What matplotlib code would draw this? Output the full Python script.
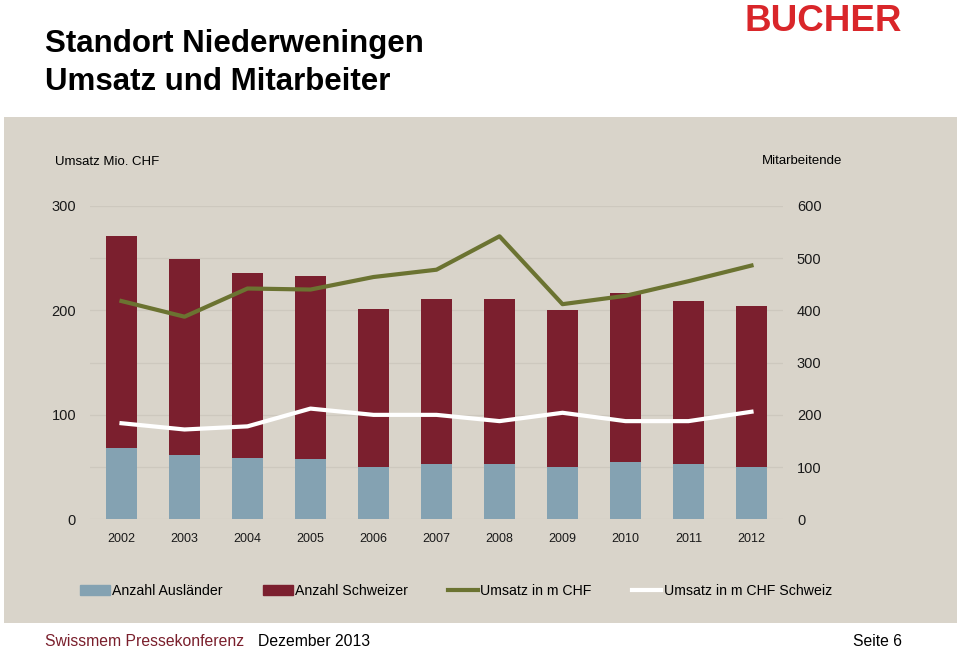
import matplotlib.pyplot as plt
from matplotlib.patches import Rectangle, Patch
from matplotlib.lines import Line2D

years = ['2002', '2003', '2004', '2005', '2006', '2007', '2008', '2009', '2010', '2011', '2012']
auslaender = [136, 124, 118, 115, 100, 105, 105, 100, 109, 105, 100]
total_ma = [543, 498, 471, 465, 403, 422, 422, 401, 433, 419, 408]
schweizer = [t - a for t, a in zip(total_ma, auslaender)]
umsatz = [209, 194, 221, 220, 232, 239, 271, 206, 214, 228, 243]
umsatz_ch = [92, 86, 89, 106, 100, 100, 94, 102, 94, 94, 103]

BG = '#d9d4ca'
C_AUS = '#84a2b2'
C_CH = '#7b1f2e'
C_UMS = '#6b7331'
GRID = '#cdc8be'

plt.rcParams['font.family'] = ['Liberation Sans', 'DejaVu Sans']

fig = plt.figure(figsize=(9.6, 6.51), dpi=100)
W, H = 960, 651

# grey panel behind the chart
fig.patches.append(Rectangle((4 / W, 1 - 623 / H), (957 - 4) / W, (623 - 117) / H,
                             transform=fig.transFigure, facecolor=BG, edgecolor='none', zorder=-5))

ax = fig.add_axes([90 / W, 1 - 519.3 / H, 693 / W, 313.3 / H])
ax.patch.set_alpha(0)
ax2 = ax.twinx()

x = range(len(years))
ax.bar(x, auslaender, width=0.5, color=C_AUS, zorder=2)
ax.bar(x, schweizer, width=0.5, bottom=auslaender, color=C_CH, zorder=2)
ax.set_ylim(0, 600)
ax.set_xlim(-0.5, len(years) - 0.5)
ax.set_yticks(range(0, 601, 100))
ax.grid(axis='y', color=GRID, linewidth=0.9, zorder=0)
ax.set_axisbelow(True)
ax.set_xticks(list(x))
ax.set_xticklabels(years, fontsize=9)
ax.tick_params(axis='both', length=0, colors='#1a1a1a')
ax.tick_params(axis='y', labelsize=10.5, pad=10, left=False, labelleft=False,
               right=False, labelright=True)
ax.tick_params(axis='x', pad=10)
for s in ax.spines.values():
    s.set_visible(False)

ax2.plot(x, umsatz, color=C_UMS, linewidth=3)
ax2.plot(x, umsatz_ch, color='white', linewidth=3)
ax2.set_ylim(0, 300)
ax2.set_yticks([0, 100, 200, 300])
ax2.tick_params(axis='y', length=0, labelsize=10.5, pad=10, colors='#1a1a1a',
                left=False, labelleft=True, right=False, labelright=False)
for s in ax2.spines.values():
    s.set_visible(False)

fig.text(55 / W, 1 - 162 / H, 'Umsatz Mio. CHF', fontsize=9.5, va='center', ha='left')
fig.text(842 / W, 1 - 161 / H, 'Mitarbeitende', fontsize=9.5, va='center', ha='right')

handles = [Patch(color=C_AUS), Patch(color=C_CH),
           Line2D([], [], color=C_UMS, linewidth=3), Line2D([], [], color='white', linewidth=3)]
labels = ['Anzahl Ausländer', 'Anzahl Schweizer', 'Umsatz in m CHF', 'Umsatz in m CHF Schweiz']
fig.legend(handles, labels, loc='center', bbox_to_anchor=(456 / W, 1 - 591 / H), ncol=4,
           frameon=False, fontsize=10.2, handlelength=2.1, handleheight=0.8,
           handletextpad=0.15, columnspacing=2.85)

fig.text(45 / W, 1 - 51.7 / H, 'Standort Niederweningen', fontsize=22.5, fontweight='bold',
         va='baseline', ha='left')
fig.text(45 / W, 1 - 90 / H, 'Umsatz und Mitarbeiter', fontsize=22.5, fontweight='bold',
         va='baseline', ha='left')
fig.text(902 / W, 1 - 31 / H, 'BUCHER', fontsize=26.5, fontweight='bold', color='#d9262a',
         va='baseline', ha='right')

fig.text(45 / W, 1 - 646 / H, 'Swissmem Pressekonferenz', fontsize=11.3, color='#7a1f2c',
         va='baseline', ha='left')
fig.text(258 / W, 1 - 646 / H, 'Dezember 2013', fontsize=11.3, va='baseline', ha='left')
fig.text(902 / W, 1 - 646 / H, 'Seite 6', fontsize=11.3, va='baseline', ha='right')

fig.savefig('out.png', dpi=100, facecolor='white')
